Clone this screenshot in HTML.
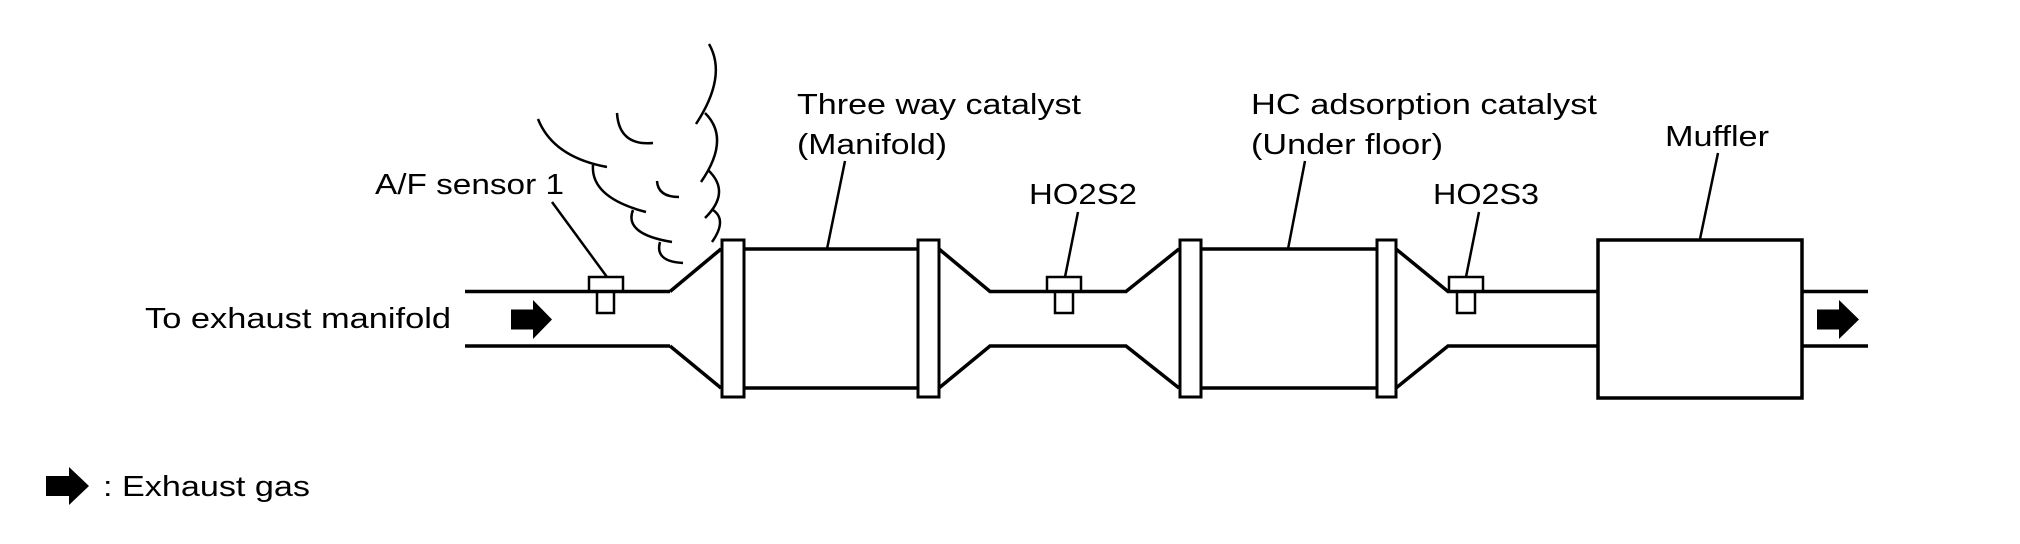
<!DOCTYPE html>
<html><head><meta charset="utf-8"><style>
html,body{margin:0;padding:0;background:#fff;}
svg{display:block;}
text{font-family:"Liberation Sans",Arial,sans-serif;font-size:29px;fill:#000;}
</style></head><body>
<svg width="2020" height="544" viewBox="0 0 2020 544" xmlns="http://www.w3.org/2000/svg">
<g fill="none" stroke="#000" stroke-width="3.5" stroke-linecap="butt">
<!-- left pipe -->
<line x1="465" y1="291.5" x2="670" y2="291.5"/>
<line x1="465" y1="346" x2="670" y2="346"/>
<polyline points="670,291.5 721,249"/>
<polyline points="670,346 721,388"/>
<!-- cat1 body -->
<line x1="744" y1="249" x2="918" y2="249"/>
<line x1="744" y1="388" x2="918" y2="388"/>
<polyline points="939,249 990,291.5 1126,291.5 1179,249"/>
<polyline points="939,388 990,346 1126,346 1179,388"/>
<!-- cat2 body -->
<line x1="1201" y1="249" x2="1377" y2="249"/>
<line x1="1201" y1="388" x2="1377" y2="388"/>
<polyline points="1396,249 1448,291.5 1598,291.5"/>
<polyline points="1396,388 1448,346 1598,346"/>
<!-- muffler -->
<rect x="1598" y="240" width="204" height="158"/>
<line x1="1802" y1="291.5" x2="1868" y2="291.5"/>
<line x1="1802" y1="346" x2="1868" y2="346"/>
</g>
<g fill="#fff" stroke="#000" stroke-width="3">
<rect x="722" y="240" width="22" height="157"/>
<rect x="918" y="240" width="21" height="157"/>
<rect x="1180" y="240" width="21" height="157"/>
<rect x="1377" y="240" width="19" height="157"/>
</g>
<g fill="#fff" stroke="#000" stroke-width="2.5">
<rect x="589" y="277" width="34" height="14"/>
<rect x="597" y="292" width="17" height="21"/>
<rect x="1047" y="277" width="34" height="14"/>
<rect x="1055" y="292" width="18" height="21"/>
<rect x="1449" y="277" width="34" height="14"/>
<rect x="1457" y="292" width="18" height="21"/>
</g>
<!-- leaders -->
<g stroke="#000" stroke-width="2.5">
<line x1="552" y1="202" x2="607" y2="277"/>
<line x1="845" y1="161" x2="827" y2="249"/>
<line x1="1078" y1="212" x2="1065" y2="277"/>
<line x1="1305" y1="161" x2="1288" y2="249"/>
<line x1="1479" y1="212" x2="1466" y2="277"/>
<line x1="1718" y1="153" x2="1700" y2="239"/>
</g>
<!-- smoke -->
<g fill="none" stroke="#000" stroke-width="2.5">
<path d="M709,44 Q727.5,76 696,124"/>
<path d="M705,113 Q731,138.5 701,182"/>
<path d="M708,170 Q731.5,192 705,218"/>
<path d="M713,210 Q727.5,220 712,242"/>
<path d="M538,119 Q553,157 607,167"/>
<path d="M593,165 Q590.5,197.5 646,212"/>
<path d="M633,210 Q623.5,234 672,242"/>
<path d="M660,242 Q654.5,261.5 683,263"/>
<path d="M617,113 Q619,146 653,143"/>
<path d="M657,181 Q658,197 679,197"/>
</g>
<!-- arrows -->
<g fill="#000">
<polygon points="511,309.5 533,309.5 533,300 552,319.5 533,339 533,329.5 511,329.5"/>
<polygon points="1817,309.5 1839,309.5 1839,300 1859,319.5 1839,339 1839,329.5 1817,329.5"/>
<polygon points="46,476 69,476 69,467 89,486 69,505 69,496 46,496"/>
</g>
<!-- labels -->
<text x="375" y="194" textLength="189" lengthAdjust="spacingAndGlyphs">A/F sensor 1</text>
<text x="145" y="328" textLength="306" lengthAdjust="spacingAndGlyphs">To exhaust manifold</text>
<text x="797" y="114" textLength="284" lengthAdjust="spacingAndGlyphs">Three way catalyst</text>
<text x="797" y="154" textLength="150" lengthAdjust="spacingAndGlyphs">(Manifold)</text>
<text x="1029" y="204" textLength="108" lengthAdjust="spacingAndGlyphs">HO2S2</text>
<text x="1251" y="114" textLength="346" lengthAdjust="spacingAndGlyphs">HC adsorption catalyst</text>
<text x="1251" y="154" textLength="192" lengthAdjust="spacingAndGlyphs">(Under floor)</text>
<text x="1433" y="204" textLength="106" lengthAdjust="spacingAndGlyphs">HO2S3</text>
<text x="1665" y="146" textLength="104" lengthAdjust="spacingAndGlyphs">Muffler</text>
<text x="103" y="496" textLength="207" lengthAdjust="spacingAndGlyphs">: Exhaust gas</text>
</svg>
</body></html>
